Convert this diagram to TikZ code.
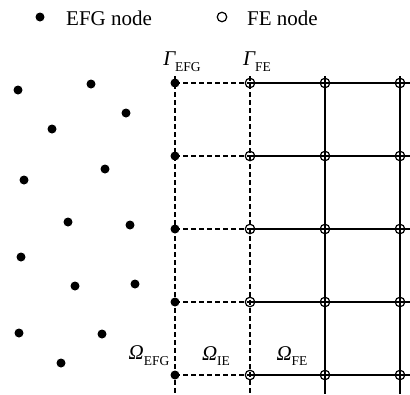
\documentclass[tikz,border=0pt]{standalone}
\usepackage{fontspec}
\setmainfont{Liberation Serif}
\newcommand{\subtxt}[2]{{\itshape #1}\raisebox{-0.28em}{\fontsize{13.5}{13.5}\selectfont #2}}
\begin{document}
\begin{tikzpicture}[x=1pt,y=-1pt,
  efg/.style={circle,fill=black,inner sep=0pt,minimum size=9pt},
  fe/.style={circle,draw=black,line width=1.2pt,inner sep=0pt,minimum size=9.5pt},
  gridsolid/.style={line width=1.8pt},
  griddash/.style={line width=1.8pt,dash pattern=on 5pt off 3pt},
  lbl/.style={inner sep=0pt,font=\fontsize{21}{23}\selectfont}]
\useasboundingbox (0,0) rectangle (410,394);

% legend
\node[efg] (legA) at (40,17) {};
\node[lbl,anchor=west] (legAt) at (66,18) {EFG node};
\node[fe] (legB) at (222,17) {};
\node[lbl,anchor=west] (legBt) at (247,18) {FE node};

% scattered EFG nodes
\foreach \i/\p in {1/{(18,90)},2/{(91,84)},3/{(126,113)},4/{(52,129)},5/{(105,169)},
  6/{(24,180)},7/{(68,222)},8/{(130,225)},9/{(21,257)},10/{(75,286)},
  11/{(135,284)},12/{(19,333)},13/{(102,334)},14/{(61,363)}}
  \node[efg] (s\i) at \p {};

% grid coordinates: columns 1..4, rows 1..5
\foreach \c/\x in {1/175,2/250,3/325,4/400}{
  \coordinate (top\c) at (\x,76);
  \coordinate (bot\c) at (\x,394);
}
\foreach \r/\y in {1/83,2/156,3/229,4/302,5/375}{
  \coordinate (g1\r) at (175,\y);
  \coordinate (g2\r) at (250,\y);
  \coordinate (g3\r) at (325,\y);
  \coordinate (g4\r) at (400,\y);
  \coordinate (rt\r) at (410,\y);
}

% vertical lines
\draw[griddash] (top1) -- (bot1);
\draw[griddash] (top2) -- (bot2);
\draw[gridsolid] (top3) -- (bot3);
\draw[gridsolid] (top4) -- (bot4);
% horizontal lines
\foreach \r in {1,...,5}{
  \draw[griddash] (g1\r) -- (g2\r);
  \draw[gridsolid] (g2\r) -- (rt\r);
}

% nodes on the grid
\foreach \r in {1,...,5}{
  \node[efg] (e\r) at (g1\r) {};
  \node[fe] (f2\r) at (g2\r) {};
  \node[fe] (f3\r) at (g3\r) {};
  \node[fe] (f4\r) at (g4\r) {};
}

% boundary and domain labels
\node[lbl] (gefg) at (182,62) {\subtxt{Γ}{EFG}};
\node[lbl] (gfe) at (257,62) {\subtxt{Γ}{FE}};
\node[lbl] (oefg) at (149,356) {\subtxt{Ω}{EFG}};
\node[lbl] (oie) at (216,356) {\subtxt{Ω}{IE}};
\node[lbl] (ofe) at (292,356) {\subtxt{Ω}{FE}};
\end{tikzpicture}
\end{document}
